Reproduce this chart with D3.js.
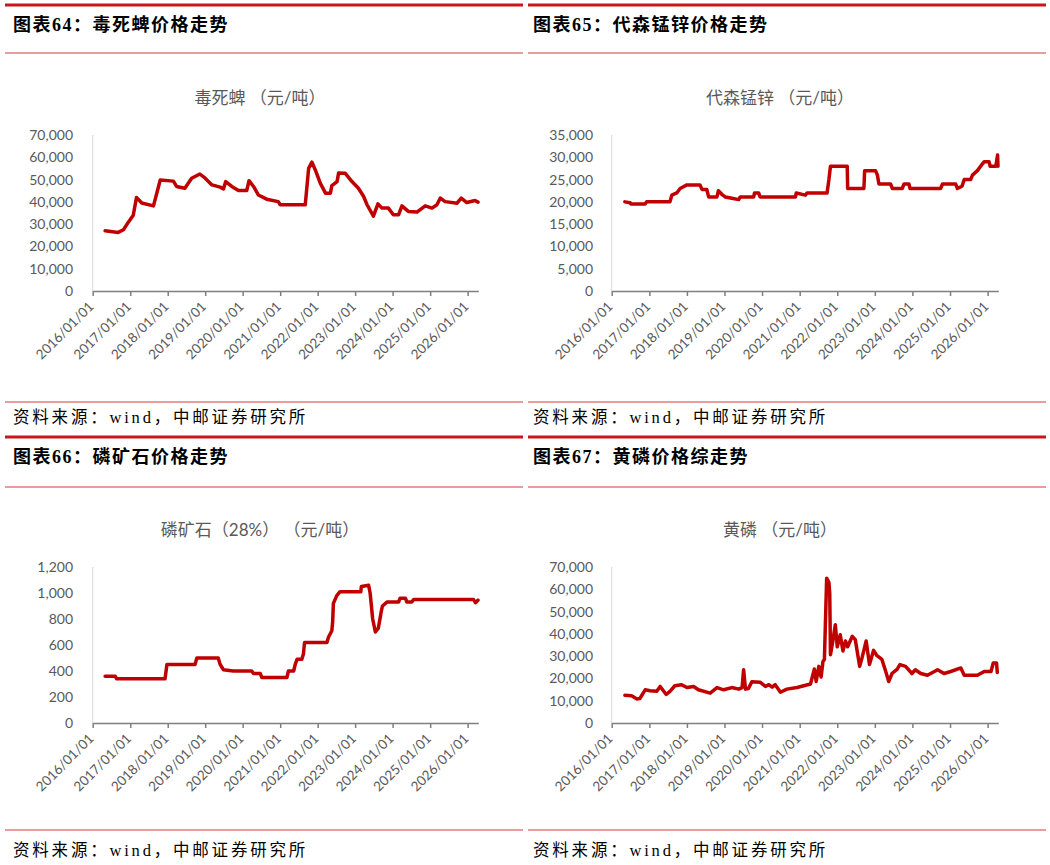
<!DOCTYPE html>
<html>
<head>
<meta charset="utf-8">
<script src="https://cdn.jsdelivr.net/npm/d3@7"></script>
<style>
	body { margin: 0; background: #fff; }
	svg { display: block; }
	.hdr { font-family: "Liberation Serif", "Noto Sans CJK SC"; font-weight: bold; font-size: 18px; fill: #000; letter-spacing: 1.5px; }
	.src { font-family: "Liberation Serif", "Noto Sans CJK SC"; font-size: 16.5px; fill: #000; letter-spacing: 2.8px; }
	.ctitle { font-family: Lato, "Noto Sans CJK SC"; font-size: 17px; fill: #595959; }
	.axis text { font-family: Lato, "Noto Sans CJK SC"; fill: #595959; }
</style>
</head>
<body>
<svg id="chart" width="1050" height="865"></svg>
<script>
const parseDate = d3.timeParse('%Y-%m-%d');

// x axis ticks (shared by all four charts)
const tickDates = ['2016-01-01', '2017-01-01', '2018-01-01', '2019-01-01', '2020-01-01', '2021-01-01',
	'2022-01-01', '2023-01-01', '2024-01-01', '2025-01-01', '2026-01-01'];
const tickLabels = ['2016/01/01', '2017/01/01', '2018/01/01', '2019/01/01', '2020/01/01', '2021/01/01',
	'2022/01/01', '2023/01/01', '2024/01/01', '2025/01/01', '2026/01/01'];

const headers = ['图表64：毒死蜱价格走势', '图表65：代森锰锌价格走势', '图表66：磷矿石价格走势', '图表67：黄磷价格综走势'];
const chartTitles = ['毒死蜱 （元/吨）', '代森锰锌 （元/吨）', '磷矿石（28%） （元/吨）', '黄磷 （元/吨）'];
const sourceText = '资料来源：wind，中邮证券研究所';

const yTicks1 = [0, 10000, 20000, 30000, 40000, 50000, 60000, 70000];
const yTicks2 = [0, 5000, 10000, 15000, 20000, 25000, 30000, 35000];
const yTicks3 = [0, 200, 400, 600, 800, 1000, 1200];
const yTicks4 = [0, 10000, 20000, 30000, 40000, 50000, 60000, 70000];

// 毒死蜱
const chlorDates = ['2016-05-01', '2016-09-05', '2016-10-27', '2016-12-15', '2017-01-30', '2017-03-03', '2017-04-23',
	'2017-08-15', '2017-09-17', '2017-10-20', '2018-02-25', '2018-03-28', '2018-06-17', '2018-08-22', '2018-11-10',
	'2019-01-01', '2019-03-08', '2019-05-27', '2019-06-28', '2019-07-20', '2019-09-17', '2019-11-21', '2020-02-10',
	'2020-03-03', '2020-04-16', '2020-06-02', '2020-08-22', '2020-12-13', '2021-01-01', '2021-09-02', '2021-10-05',
	'2021-11-06', '2021-12-09', '2022-01-26', '2022-03-18', '2022-05-05', '2022-05-19', '2022-07-09', '2022-07-24',
	'2022-09-27', '2022-12-01', '2023-02-02', '2023-03-25', '2023-04-27', '2023-06-28', '2023-08-11', '2023-09-20',
	'2023-11-21', '2024-01-08', '2024-02-28', '2024-04-01', '2024-06-02', '2024-08-25', '2024-11-14', '2025-01-19',
	'2025-03-08', '2025-04-10', '2025-05-27', '2025-09-20', '2025-10-31', '2025-12-24', '2026-03-14', '2026-04-12'];
const chlorValues = [27000, 26300, 27500, 31000, 34000, 42000, 39500,
	38200, 44000, 49800, 49300, 46900, 46100, 50600, 52500,
	50600, 47600, 46600, 45800, 49100, 46900, 45100, 45100,
	49500, 46900, 43100, 41200, 40100, 38700, 38700, 55000,
	57800, 54300, 48400, 43900, 43900, 47300, 49100, 53000,
	52800, 49100, 46100, 42400, 38700, 33600, 39100, 37200,
	37200, 34200, 34200, 38200, 35700, 35400, 38200, 37200,
	38700, 41700, 40100, 39400, 41700, 39700, 40600, 39900];

// 代森锰锌
const mancoDates = ['2016-05-08', '2016-06-28', '2016-07-06', '2016-11-21', '2016-12-06', '2017-07-20', '2017-08-07',
	'2017-09-24', '2017-10-27', '2018-01-01', '2018-05-08', '2018-05-27', '2018-07-13', '2018-07-31', '2018-10-20',
	'2018-11-03', '2018-12-06', '2019-01-08', '2019-03-14', '2019-05-19', '2019-06-03', '2019-10-12', '2019-10-20',
	'2019-11-29', '2019-12-13', '2020-11-21', '2020-11-29', '2021-02-25', '2021-03-14', '2021-09-24', '2021-10-12',
	'2021-10-27', '2022-04-08', '2022-04-12', '2022-09-17', '2022-09-24', '2023-01-08', '2023-01-26', '2023-02-10',
	'2023-06-03', '2023-06-21', '2023-09-24', '2023-10-12', '2023-11-29', '2023-12-09', '2024-10-01', '2024-10-20',
	'2025-02-25', '2025-03-14', '2025-04-27', '2025-05-19', '2025-07-20', '2025-08-07', '2025-09-24', '2025-11-14',
	'2025-11-29', '2026-01-15', '2026-01-26', '2026-03-22', '2026-04-08', '2026-04-12'];
const mancoValues = [20000, 19800, 19500, 19500, 20000, 20000, 21500,
	22000, 23000, 23800, 23800, 22800, 22800, 21100, 21100,
	22500, 21700, 21100, 20800, 20500, 21100, 21100, 22000,
	22000, 21100, 21100, 22000, 21500, 22000, 22000, 25000,
	28000, 28000, 23000, 23000, 27000, 27000, 26000, 24000,
	24000, 23000, 23000, 24000, 24000, 23000, 23000, 24000,
	24000, 23000, 23500, 25000, 25000, 26000, 27000, 28600,
	29000, 29000, 28000, 28000, 30500, 28000];

// 磷矿石（28%）
const rockDates = ['2016-05-01', '2016-08-07', '2016-08-22', '2017-12-06', '2017-12-24', '2018-09-24', '2018-10-12',
	'2019-05-08', '2019-05-27', '2019-06-28', '2019-10-01', '2020-03-29', '2020-04-16', '2020-06-21', '2020-07-06',
	'2021-03-07', '2021-03-22', '2021-05-12', '2021-05-27', '2021-06-14', '2021-07-31', '2021-08-15', '2021-08-26',
	'2022-04-01', '2022-04-16', '2022-05-19', '2022-05-27', '2022-06-03', '2022-07-06', '2022-08-07', '2023-02-25',
	'2023-03-03', '2023-05-12', '2023-05-27', '2023-06-21', '2023-07-17', '2023-08-15', '2023-09-13', '2023-09-24',
	'2023-11-07', '2024-02-28', '2024-03-14', '2024-05-05', '2024-05-19', '2024-07-06', '2024-07-24', '2026-02-28',
	'2026-03-18', '2026-04-12'];
const rockValues = [360, 360, 340, 340, 450, 450, 500,
	500, 450, 410, 400, 400, 380, 380, 350,
	350, 400, 400, 450, 490, 490, 530, 620,
	620, 660, 710, 780, 920, 980, 1010, 1010,
	1050, 1060, 1000, 800, 700, 730, 860, 900,
	930, 930, 960, 960, 930, 930, 950, 950,
	925, 945];

// 黄磷
const phosDates = ['2016-05-08', '2016-07-13', '2016-09-02', '2016-10-01', '2016-11-21', '2017-01-08', '2017-03-14',
	'2017-04-16', '2017-06-14', '2017-07-20', '2017-09-06', '2017-11-10', '2018-01-01', '2018-03-07', '2018-04-23',
	'2018-08-15', '2018-10-20', '2018-12-24', '2019-03-14', '2019-05-19', '2019-06-21', '2019-07-06', '2019-07-24',
	'2019-08-22', '2019-09-24', '2019-12-13', '2020-02-03', '2020-03-07', '2020-04-08', '2020-05-08', '2020-06-28',
	'2020-08-29', '2020-12-06', '2021-02-10', '2021-04-16', '2021-05-23', '2021-06-10', '2021-07-06', '2021-07-28',
	'2021-08-15', '2021-08-29', '2021-09-20', '2021-10-12', '2021-10-20', '2021-10-27', '2021-11-21', '2021-12-13',
	'2022-01-01', '2022-01-30', '2022-02-25', '2022-03-22', '2022-04-12', '2022-05-27', '2022-06-25', '2022-08-07',
	'2022-08-29', '2022-10-09', '2022-11-10', '2022-12-20', '2023-01-22', '2023-03-11', '2023-04-12', '2023-05-16',
	'2023-06-17', '2023-08-07', '2023-09-02', '2023-10-27', '2023-12-28', '2024-01-30', '2024-03-22', '2024-05-27',
	'2024-09-02', '2024-11-03', '2025-01-08', '2025-04-16', '2025-05-19', '2025-09-24', '2025-11-29', '2026-02-03',
	'2026-02-25', '2026-03-29', '2026-04-05'];
const phosValues = [12500, 12200, 10800, 11000, 14900, 14500, 14200,
	16400, 12800, 14200, 16700, 17200, 15900, 16400, 14900,
	13400, 15900, 14900, 15900, 15200, 15900, 23900, 15200,
	15500, 18500, 18300, 16400, 17200, 16100, 17200, 13800,
	15200, 15900, 16700, 17500, 24200, 18600, 25400, 20600,
	27600, 28500, 65000, 63000, 58000, 30600, 37400, 44100,
	34200, 39600, 32300, 36800, 34200, 38900, 37400, 25400,
	29100, 36800, 26200, 32600, 30200, 28500, 23900, 18600,
	22200, 24200, 26200, 25400, 22200, 23900, 22200, 21400,
	23900, 22200, 23100, 24700, 21400, 21400, 23100, 23100,
	26900, 26900, 22700];

const svg = d3.select('#chart');

const cols = [
	{ x0: 5, x1: 523, tx: 13, cx: 260, pl: 92.7, pr: 478.3, lab: 73 },
	{ x0: 528, x1: 1046, tx: 533, cx: 780, pl: 611.7, pr: 998.3, lab: 593 }
];
const rows = [
	{ top: 5, hdr: 31, line1: 53, title: 104, pt: 135, pb: 291, line2: 402, src: 423, bottom: 437 },
	{ top: null, hdr: 463, line1: 487, title: 536, pt: 567, pb: 723, line2: 830, src: 856, bottom: null }
];

const thinRed = '#d23a3a';
const thickRed = '#c8161d';

function hline(y, c, color, w) {
	svg.append('line')
		.attr('x1', c.x0).attr('x2', c.x1)
		.attr('y1', y).attr('y2', y)
		.attr('stroke', color)
		.attr('stroke-width', w);
}

function drawPanel(i, dates, values, ticks) {
	const c = cols[i % 2];
	const r = rows[Math.floor(i / 2)];

	if (r.top != null) hline(r.top, c, thickRed, 3);
	hline(r.line1, c, thinRed, 1.2);
	hline(r.line2, c, thinRed, 1.2);
	if (r.bottom != null) hline(r.bottom, c, thickRed, 3);

	svg.append('text').attr('class', 'hdr').attr('x', c.tx).attr('y', r.hdr).text(headers[i]);
	svg.append('text').attr('class', 'src').attr('x', c.tx).attr('y', r.src).text(sourceText);
	svg.append('text').attr('class', 'ctitle')
		.attr('x', c.cx).attr('y', r.title)
		.attr('text-anchor', 'middle')
		.text(chartTitles[i]);

	const x = d3.scaleTime()
		.domain([parseDate('2016-01-01'), parseDate('2026-04-15')])
		.range([c.pl, c.pr]);
	const y = d3.scaleLinear()
		.domain([0, d3.max(ticks)])
		.range([r.pb, r.pt]);

	// y axis: labels only, light vertical rule
	const gy = svg.append('g')
		.attr('class', 'axis')
		.attr('transform', `translate(${c.pl},0)`)
		.call(d3.axisLeft(y).tickValues(ticks).tickSize(0).tickPadding(c.pl - c.lab).tickFormat(d3.format(',')));
	gy.select('.domain').remove();
	gy.selectAll('text').style('font-size', '14px');
	svg.append('line')
		.attr('x1', c.pl).attr('x2', c.pl)
		.attr('y1', r.pt).attr('y2', r.pb)
		.attr('stroke', '#d9d9d9');

	const gx = svg.append('g')
		.attr('class', 'axis')
		.attr('transform', `translate(0,${r.pb})`)
		.call(d3.axisBottom(x)
			.tickValues(tickDates.map(parseDate))
			.tickSize(5)
			.tickSizeOuter(0)
			.tickFormat((d, k) => tickLabels[k]));
	gx.select('.domain').attr('stroke', '#7f7f7f').attr('stroke-width', 1.5);
	gx.selectAll('.tick line').attr('stroke', '#7f7f7f').attr('stroke-width', 1.5);
	gx.selectAll('text')
		.style('font-size', '13.5px')
		.attr('x', 0).attr('y', 0)
		.attr('dy', '0.35em')
		.attr('text-anchor', 'end')
		.attr('transform', 'translate(-2,13) rotate(-45)');

	const pts = dates.map((d, k) => ({ date: parseDate(d), value: values[k] }));
	const line = d3.line()
		.x(d => x(d.date))
		.y(d => y(d.value));
	svg.append('path')
		.datum(pts)
		.attr('fill', 'none')
		.attr('stroke', '#c00000')
		.attr('stroke-width', 3.5)
		.attr('stroke-linejoin', 'round')
		.attr('stroke-linecap', 'round')
		.attr('d', line);
}

drawPanel(0, chlorDates, chlorValues, yTicks1);
drawPanel(1, mancoDates, mancoValues, yTicks2);
drawPanel(2, rockDates, rockValues, yTicks3);
drawPanel(3, phosDates, phosValues, yTicks4);
</script>
</body>
</html>
